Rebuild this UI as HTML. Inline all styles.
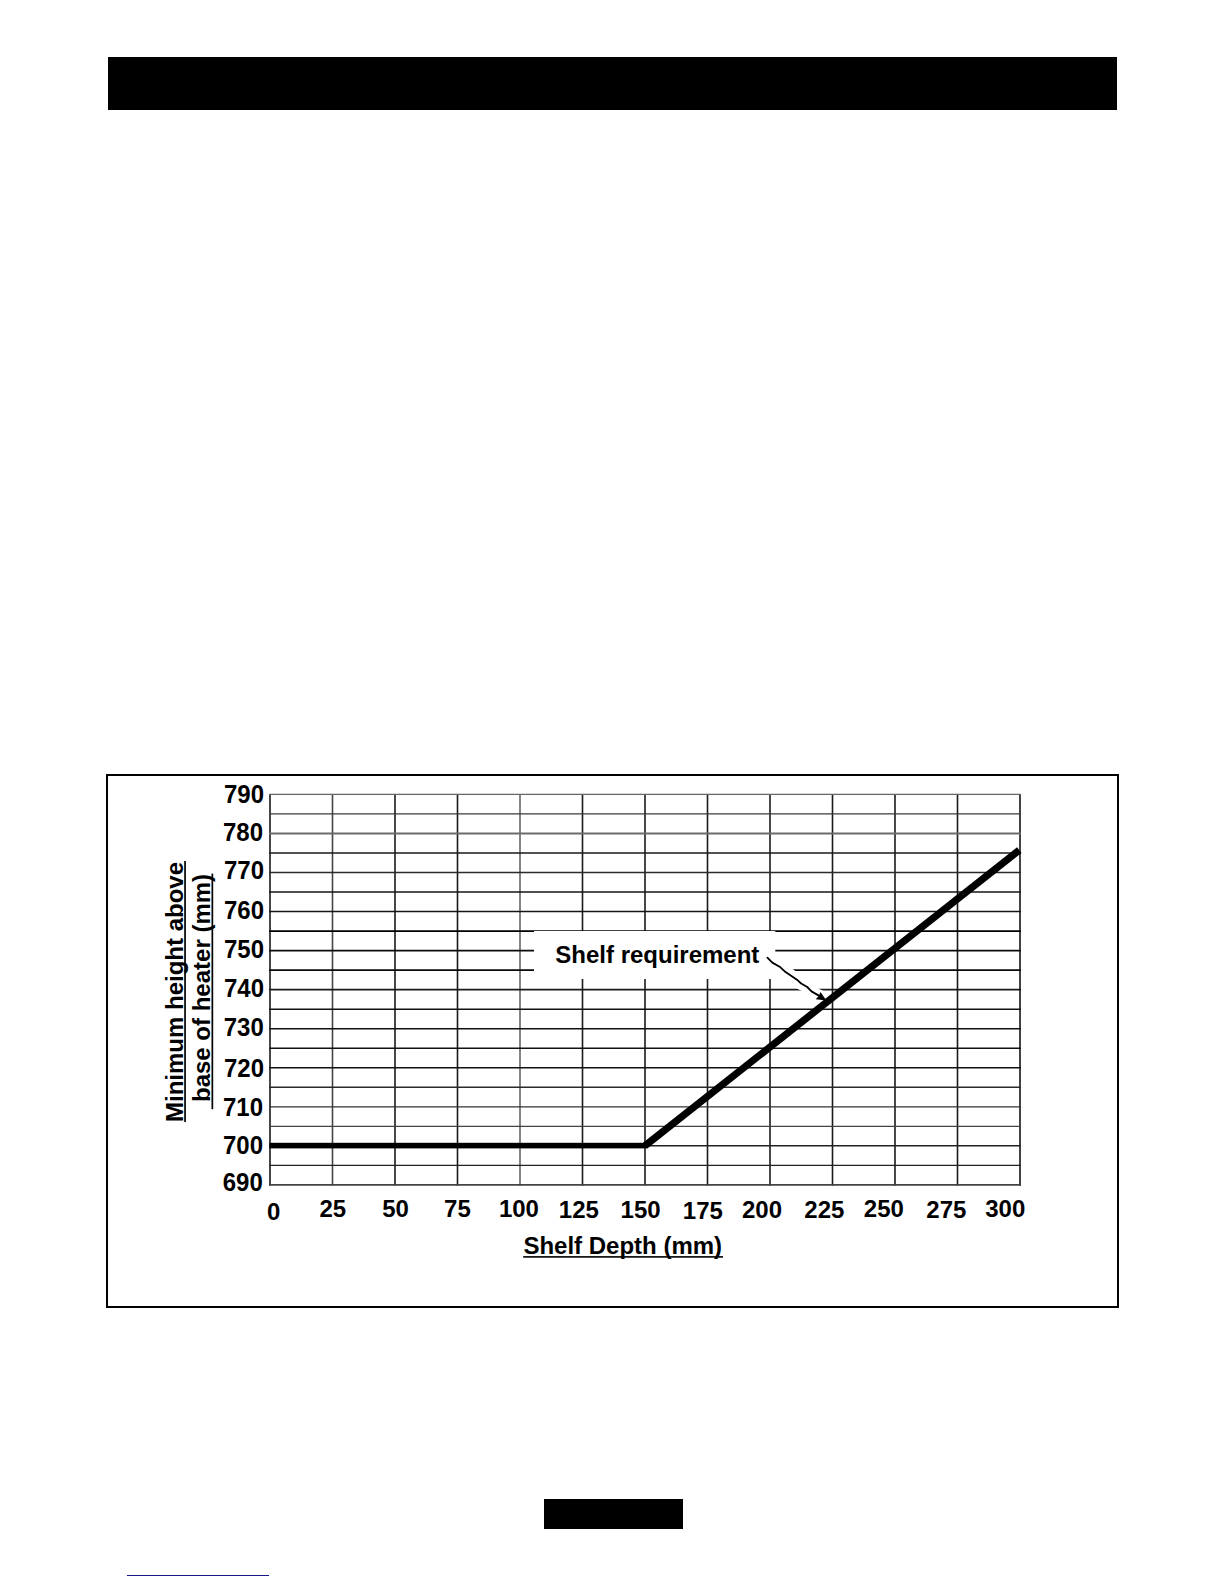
<!DOCTYPE html>
<html lang="en">
<head>
<meta charset="utf-8">
<title>Shelf requirement</title>
<style>
html,body{margin:0;padding:0;background:#fff;}
body{width:1224px;height:1584px;position:relative;overflow:hidden;font-family:"Liberation Sans",Arial,sans-serif;}
.bar{position:absolute;left:108px;top:57px;width:1009px;height:53px;background:#000;}
.frame{position:absolute;left:106px;top:774px;width:1009px;height:530px;border:2px solid #000;}
.pg{position:absolute;left:544px;top:1499px;width:139px;height:30px;background:#000;}
.lnk{position:absolute;left:127px;top:1574.8px;width:142px;height:1.3px;background:#15158a;}
svg{position:absolute;left:0;top:0;}
svg text{font-family:"Liberation Sans",Arial,sans-serif;font-weight:bold;font-size:24px;fill:#000;}
</style>
</head>
<body>
<div class="bar"></div>
<div class="frame"></div>
<svg width="1224" height="1584" viewBox="0 0 1224 1584">
<g fill="none">
<line x1="270.00" y1="794.00" x2="270.00" y2="1185.75" stroke="#333" stroke-width="1.8"/>
<line x1="332.50" y1="794.00" x2="332.50" y2="1185.75" stroke="#444" stroke-width="1.6"/>
<line x1="395.00" y1="794.00" x2="395.00" y2="1185.75" stroke="#1a1a1a" stroke-width="1.6"/>
<line x1="457.50" y1="794.00" x2="457.50" y2="1185.75" stroke="#1a1a1a" stroke-width="1.6"/>
<line x1="520.00" y1="794.00" x2="520.00" y2="1185.75" stroke="#777" stroke-width="1.8"/>
<line x1="582.50" y1="794.00" x2="582.50" y2="1185.75" stroke="#1a1a1a" stroke-width="1.6"/>
<line x1="645.00" y1="794.00" x2="645.00" y2="1185.75" stroke="#1a1a1a" stroke-width="1.6"/>
<line x1="707.50" y1="794.00" x2="707.50" y2="1185.75" stroke="#1a1a1a" stroke-width="1.6"/>
<line x1="770.00" y1="794.00" x2="770.00" y2="1185.75" stroke="#1a1a1a" stroke-width="1.6"/>
<line x1="832.50" y1="794.00" x2="832.50" y2="1185.75" stroke="#1a1a1a" stroke-width="1.6"/>
<line x1="895.00" y1="794.00" x2="895.00" y2="1185.75" stroke="#1a1a1a" stroke-width="1.6"/>
<line x1="957.50" y1="794.00" x2="957.50" y2="1185.75" stroke="#1a1a1a" stroke-width="1.6"/>
<line x1="1020.00" y1="794.00" x2="1020.00" y2="1185.75" stroke="#3a3a3a" stroke-width="1.9"/>
<line x1="269.10" y1="794.40" x2="1020.90" y2="794.40" stroke="#666" stroke-width="1.2"/>
<line x1="269.10" y1="813.92" x2="1020.90" y2="813.92" stroke="#3a3a3a" stroke-width="1.3"/>
<line x1="269.10" y1="833.45" x2="1020.90" y2="833.45" stroke="#6a6a6a" stroke-width="1.9"/>
<line x1="269.10" y1="852.98" x2="1020.90" y2="852.98" stroke="#1a1a1a" stroke-width="1.5"/>
<line x1="269.10" y1="872.50" x2="1020.90" y2="872.50" stroke="#2a2a2a" stroke-width="1.6"/>
<line x1="269.10" y1="892.02" x2="1020.90" y2="892.02" stroke="#151515" stroke-width="1.5"/>
<line x1="269.10" y1="911.55" x2="1020.90" y2="911.55" stroke="#151515" stroke-width="1.5"/>
<line x1="269.10" y1="931.08" x2="1020.90" y2="931.08" stroke="#000" stroke-width="1.9"/>
<line x1="269.10" y1="950.60" x2="1020.90" y2="950.60" stroke="#0a0a0a" stroke-width="1.8"/>
<line x1="269.10" y1="970.12" x2="1020.90" y2="970.12" stroke="#0a0a0a" stroke-width="1.8"/>
<line x1="269.10" y1="989.65" x2="1020.90" y2="989.65" stroke="#1a1a1a" stroke-width="1.6"/>
<line x1="269.10" y1="1009.18" x2="1020.90" y2="1009.18" stroke="#111" stroke-width="1.6"/>
<line x1="269.10" y1="1028.70" x2="1020.90" y2="1028.70" stroke="#111" stroke-width="1.6"/>
<line x1="269.10" y1="1048.23" x2="1020.90" y2="1048.23" stroke="#111" stroke-width="1.6"/>
<line x1="269.10" y1="1067.75" x2="1020.90" y2="1067.75" stroke="#111" stroke-width="1.5"/>
<line x1="269.10" y1="1087.28" x2="1020.90" y2="1087.28" stroke="#2a2a2a" stroke-width="1.5"/>
<line x1="269.10" y1="1106.80" x2="1020.90" y2="1106.80" stroke="#333" stroke-width="1.3"/>
<line x1="269.10" y1="1126.33" x2="1020.90" y2="1126.33" stroke="#444" stroke-width="1.3"/>
<line x1="269.10" y1="1145.85" x2="1020.90" y2="1145.85" stroke="#222" stroke-width="1.5"/>
<line x1="269.10" y1="1165.38" x2="1020.90" y2="1165.38" stroke="#222" stroke-width="1.3"/>
<line x1="269.10" y1="1184.90" x2="1020.90" y2="1184.90" stroke="#444" stroke-width="1.8"/>
</g>
<rect x="534" y="931.0" width="241.3" height="48.0" fill="#fff"/>
<path d="M767.4 957.7 L772.3 962.9 L779.6 966.5 L784.5 971.4 L790 974.8 L798 980.6 L801 983.7 L807.2 986.8 L811.5 991.7 L818.8 995.6 L821.5 997.3" stroke="#fff" stroke-width="12.4" fill="none" stroke-linejoin="round"/>
<rect x="269.3" y="1142.8" width="378" height="5.6" fill="#000"/>
<polygon points="642.9,1142.8 1017.07,847.27 1021.53,852.93 647.4,1148.4" fill="#000"/>
<path d="M767.4 957.7 L772.3 962.6 L779.6 966.7 L784.5 971.2 L790 974.9 L798 980.6 L801.2 983.5 L807.2 987.0 L811.5 991.4 L818.8 995.6 L822 997.6" stroke="#000" stroke-width="1.8" fill="none" stroke-linecap="round" stroke-linejoin="round"/>
<polygon points="826.4,1000.4 815.7,999.3 818.8,996.1 820.5,992.1" fill="#000"/>
<g>
<text transform="translate(264.0,803.3) scale(1,1.045)" text-anchor="end">790</text>
<text transform="translate(263.0,841.4) scale(1,1.045)" text-anchor="end">780</text>
<text transform="translate(264.0,879.0) scale(1,1.045)" text-anchor="end">770</text>
<text transform="translate(264.0,918.5) scale(1,1.045)" text-anchor="end">760</text>
<text transform="translate(264.0,958.1) scale(1,1.045)" text-anchor="end">750</text>
<text transform="translate(264.0,997.1) scale(1,1.045)" text-anchor="end">740</text>
<text transform="translate(263.8,1036.1) scale(1,1.045)" text-anchor="end">730</text>
<text transform="translate(264.0,1076.9) scale(1,1.045)" text-anchor="end">720</text>
<text transform="translate(263.0,1116.2) scale(1,1.045)" text-anchor="end">710</text>
<text transform="translate(263.0,1153.8) scale(1,1.045)" text-anchor="end">700</text>
<text transform="translate(262.8,1191.3) scale(1,1.045)" text-anchor="end">690</text>
</g>
<g>
<text transform="translate(273.6,1220.4)" text-anchor="middle">0</text>
<text transform="translate(332.8,1217.3)" text-anchor="middle">25</text>
<text transform="translate(395.6,1217.3)" text-anchor="middle">50</text>
<text transform="translate(457.4,1216.9)" text-anchor="middle">75</text>
<text transform="translate(518.9,1217.3)" text-anchor="middle">100</text>
<text transform="translate(578.8,1217.7)" text-anchor="middle">125</text>
<text transform="translate(640.6,1217.7)" text-anchor="middle">150</text>
<text transform="translate(702.8,1218.9)" text-anchor="middle">175</text>
<text transform="translate(762.0,1217.6)" text-anchor="middle">200</text>
<text transform="translate(824.3,1217.9)" text-anchor="middle">225</text>
<text transform="translate(883.8,1217.2)" text-anchor="middle">250</text>
<text transform="translate(946.3,1218.3)" text-anchor="middle">275</text>
<text transform="translate(1005.2,1216.9)" text-anchor="middle">300</text>
</g>
<text x="555.3" y="963.3">Shelf requirement</text>
<text x="523.4" y="1254.3">Shelf Depth (mm)</text>
<rect x="523.2" y="1256.1" width="199.8" height="1.6" fill="#000"/>
<g transform="translate(183.2,1122) rotate(-90)">
<text x="0" y="0">Minimum height above</text>
<rect x="0" y="1.0" width="261" height="1.7" fill="#000"/>
</g>
<g transform="translate(209.7,1102) rotate(-90)">
<text x="0" y="0">base of heater (mm)</text>
<rect x="-7.2" y="1.8" width="235.6" height="1.7" fill="#000"/>
</g>
</svg>
<div class="pg"></div>
<div class="lnk"></div>
</body>
</html>
